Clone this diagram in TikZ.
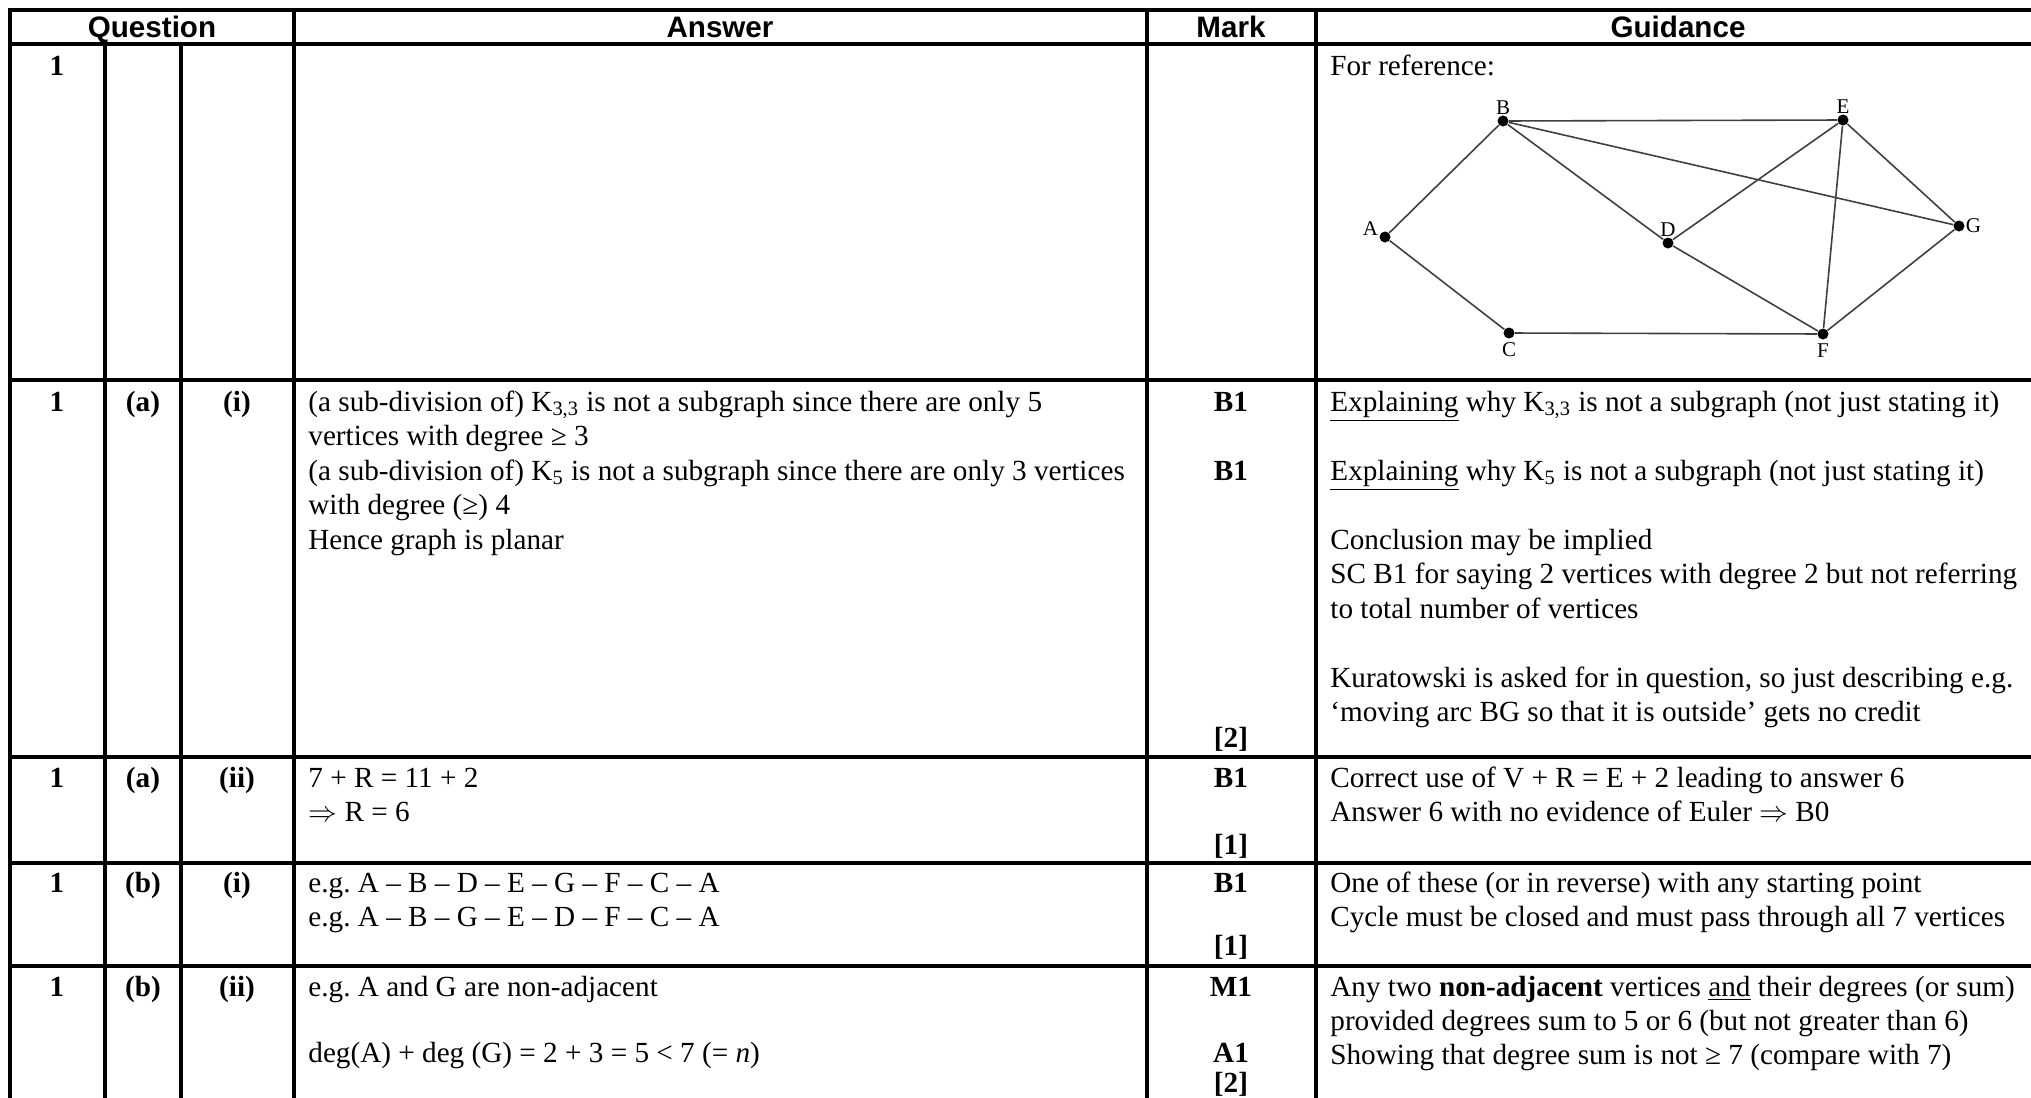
\documentclass[tikz,border=0pt]{standalone}
\usepackage{fontspec}
\setmainfont{Liberation Serif}
\newfontfamily\headfont{Liberation Sans}
\frenchspacing
\begin{document}
\begin{tikzpicture}[x=0.5pt, y=-0.5pt,
    rule/.style={line width=1.6pt, line cap=rect},
    head/.style={font=\headfont\bfseries\fontsize{14.8}{17}\selectfont, anchor=base, inner sep=0pt},
    txt/.style={font=\fontsize{14.6}{17.5}\selectfont, anchor=base west, inner sep=0pt},
    num/.style={font=\bfseries\fontsize{14.6}{17.5}\selectfont, anchor=base, inner sep=0pt},
    vertex/.style={circle, fill=black, inner sep=0pt, minimum size=5.5pt},
    vlabel/.style={font=\fontsize{10.5}{12}\selectfont, inner sep=0.3pt},
    edge/.style={line width=0.8pt, draw=black!75}]

    % Page
    \useasboundingbox (0,0) rectangle (2031,1098);

    % Table rules
    \foreach \y in {10,44,380,757,863,966}
        \draw[rule] (10,\y) -- (2031,\y);
    \foreach \x in {10,294,1147,1316}
        \draw[rule] (\x,10) -- (\x,1098);
    \foreach \x in {105,181}
        \draw[rule] (\x,44) -- (\x,1098);

    % Header
    \node[head] (hq) at (152,37) {Question};
    \node[head] (ha) at (720,37) {Answer};
    \node[head] (hm) at (1231,37) {Mark};
    \node[head] (hg) at (1678,37) {Guidance};

    % Question numbers
    \node[num] (q0) at (57,75) {1};
    \foreach \y/\p/\s [count=\i] in {411/a/i, 787/a/ii, 892/b/i, 996/b/ii} {
        \node[num] (q\i) at (57,\y) {1};
        \node[num] (p\i) at (143,\y) {(\p)};
        \node[num] (s\i) at (237,\y) {(\s)};
    }

    % For reference graph
    \node[txt] (ref) at (1330,75) {For reference:};
    \node[vertex, label={[vlabel]above:B}] (B) at (1503,121) {};
    \node[vertex, label={[vlabel]above:E}] (E) at (1843,120) {};
    \node[vertex, label={[vlabel, yshift=4pt]left:A}] (A) at (1385,237) {};
    \node[vertex, label={[vlabel]above:D}] (D) at (1668,243) {};
    \node[vertex, label={[vlabel]right:G}] (G) at (1959,226) {};
    \node[vertex, label={[vlabel, label distance=1.5pt]below:C}] (C) at (1509,333) {};
    \node[vertex, label={[vlabel, label distance=1.5pt]below:F}] (F) at (1823,334) {};
    \draw[edge] (A) -- (B) (A) -- (C) (B) -- (E) (B) -- (D) (B) -- (G)
        (E) -- (D) (E) -- (F) (E) -- (G) (D) -- (F) (C) -- (F) (G) -- (F);

    % 1 (a) (i)
    \node[txt] (ai1) at (308,411) {(a sub-division of) K\textsubscript{3,3} is not a subgraph since there are only 5};
    \node[txt] (ai2) at (308,445.5) {vertices with degree ≥ 3};
    \node[txt] (ai3) at (308,480) {(a sub-division of) K\textsubscript{5} is not a subgraph since there are only 3 vertices};
    \node[txt] (ai4) at (308,514.5) {with degree (≥) 4};
    \node[txt] (ai5) at (308,549) {Hence graph is planar};
    \node[num] (mi1) at (1231,411) {B1};
    \node[num] (mi2) at (1231,480) {B1};
    \node[num] (mi3) at (1231,747) {[2]};
    \node[txt] (gi1) at (1330,411) {\underline{Explaining} why K\textsubscript{3,3} is not a subgraph (not just stating it)};
    \node[txt] (gi2) at (1330,480) {\underline{Explaining} why K\textsubscript{5} is not a subgraph (not just stating it)};
    \node[txt] (gi3) at (1330,549) {Conclusion may be implied};
    \node[txt] (gi4) at (1330,583.5) {SC B1 for saying 2 vertices with degree 2 but not referring};
    \node[txt] (gi5) at (1330,618) {to total number of vertices};
    \node[txt] (gi6) at (1330,687) {Kuratowski is asked for in question, so just describing e.g.};
    \node[txt] (gi7) at (1330,721.5) {‘moving arc BG so that it is outside’ gets no credit};

    % 1 (a) (ii)
    \node[txt] (aii1) at (308,787) {7 + R = 11 + 2};
    \node[txt] (aii2) at (308,821.5) {$\Rightarrow$ R = 6};
    \node[num] (mii1) at (1231,787) {B1};
    \node[num] (mii2) at (1231,854) {[1]};
    \node[txt] (gii1) at (1330,787) {Correct use of V + R = E + 2 leading to answer 6};
    \node[txt] (gii2) at (1330,821.5) {Answer 6 with no evidence of Euler $\Rightarrow$ B0};

    % 1 (b) (i)
    \node[txt] (bi1) at (308,892) {e.g. A – B – D – E – G – F – C – A};
    \node[txt] (bi2) at (308,926.5) {e.g. A – B – G – E – D – F – C – A};
    \node[num] (nbi1) at (1231,892) {B1};
    \node[num] (nbi2) at (1231,955) {[1]};
    \node[txt] (hbi1) at (1330,892) {One of these (or in reverse) with any starting point};
    \node[txt] (hbi2) at (1330,926.5) {Cycle must be closed and must pass through all 7 vertices};

    % 1 (b) (ii)
    \node[txt] (bii1) at (308,996) {e.g. A and G are non-adjacent};
    \node[txt] (bii2) at (308,1062) {deg(A) + deg (G) = 2 + 3 = 5 < 7 (= \textit{n})};
    \node[num] (nbii1) at (1231,996) {M1};
    \node[num] (nbii2) at (1231,1062) {A1};
    \node[num] (nbii3) at (1231,1092) {[2]};
    \node[txt] (hbii1) at (1330,996) {Any two \textbf{non-adjacent} vertices \underline{and} their degrees (or sum)};
    \node[txt] (hbii2) at (1330,1030) {provided degrees sum to 5 or 6 (but not greater than 6)};
    \node[txt] (hbii3) at (1330,1064) {Showing that degree sum is not ≥ 7 (compare with 7)};

\end{tikzpicture}
\end{document}
